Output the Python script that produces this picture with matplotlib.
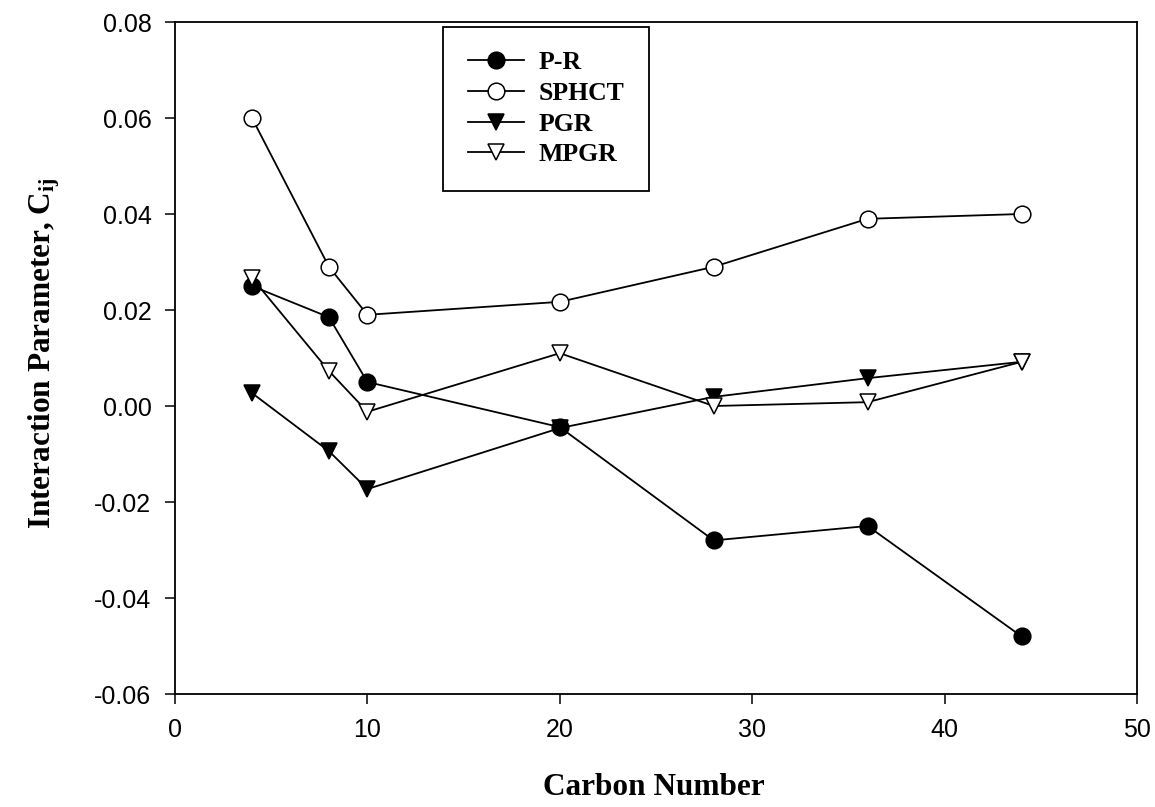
import matplotlib
matplotlib.use('Agg')
import matplotlib.pyplot as plt
from matplotlib import font_manager

carbon = [4, 8, 10, 20, 28, 36, 44]
pr = [0.025, 0.0185, 0.005, -0.0044, -0.028, -0.025, -0.048]
sphct = [0.060, 0.029, 0.019, 0.0217, 0.029, 0.039, 0.040]
pgr = [0.0027, -0.0094, -0.0173, -0.0046, 0.0019, 0.0058, 0.0092]
mpgr = [0.0267, 0.0073, -0.0012, 0.011, 0.0, 0.0008, 0.0092]
xticks = [0, 10, 20, 30, 40, 50]
yticks = [-0.06, -0.04, -0.02, 0.0, 0.02, 0.04, 0.06, 0.08]

plt.rcParams['mathtext.fontset'] = 'custom'
plt.rcParams['mathtext.rm'] = 'Liberation Serif:bold'
plt.rcParams['mathtext.it'] = 'Liberation Serif:bold'

fig = plt.figure(figsize=(11.55, 8.07), dpi=100)
ax = fig.add_axes([175/1155, 1-694/807, 962/1155, 672/807])

kw = dict(color='black', linewidth=1.3, markersize=12, markeredgewidth=1.1)
ax.plot(carbon, pr, '-o', markerfacecolor='black', label='P-R', **kw)
ax.plot(carbon, sphct, '-o', markerfacecolor='white', label='SPHCT', **kw)
ax.plot(carbon, pgr, '-v', markerfacecolor='black', label='PGR', **kw)
ax.plot(carbon, mpgr, '-v', markerfacecolor='white', label='MPGR', **kw)

ax.set_xlim(0, 50)
ax.set_ylim(-0.06, 0.08)
ax.set_xticks(xticks)
ax.set_yticks(yticks)
ax.set_yticklabels(['%.2f' % v for v in yticks])
ax.tick_params(direction='out', length=7, width=1.1, pad=10)

# x tick labels look like a narrow sans in the original
names = {f.name for f in font_manager.fontManager.ttflist}
if 'Liberation Sans Narrow' in names:
    xfam, xsize = 'Liberation Sans Narrow', 20
else:
    xfam, xsize = 'Liberation Sans', 18
for lab in ax.get_xticklabels():
    lab.set_family(xfam)
    lab.set_fontsize(xsize)
for lab in ax.get_yticklabels():
    lab.set_family('Liberation Sans')
    lab.set_fontsize(18)
for s in ax.spines.values():
    s.set_linewidth(1.3)

ax.set_xlabel('Carbon Number', fontfamily='Liberation Serif', fontweight='bold',
              fontsize=22.5)
ax.xaxis.set_label_coords(0.498, -0.118)
ax.set_ylabel(r'Interaction Parameter, C$_{\mathrm{ij}}$', fontfamily='Liberation Serif',
              fontweight='bold', fontsize=22.5)
ax.yaxis.set_label_coords(-0.117, 0.507)

leg = ax.legend(loc='upper left', bbox_to_anchor=(0.279, 0.993), fancybox=False,
                edgecolor='black', framealpha=1, handlelength=2.2,
                handletextpad=0.55,
                prop={'family': 'Liberation Serif', 'weight': 'bold', 'size': 18.5},
                borderpad=0.95, labelspacing=0.3, borderaxespad=0)
leg.get_frame().set_linewidth(1.3)

fig.savefig('out.png', dpi=100)
